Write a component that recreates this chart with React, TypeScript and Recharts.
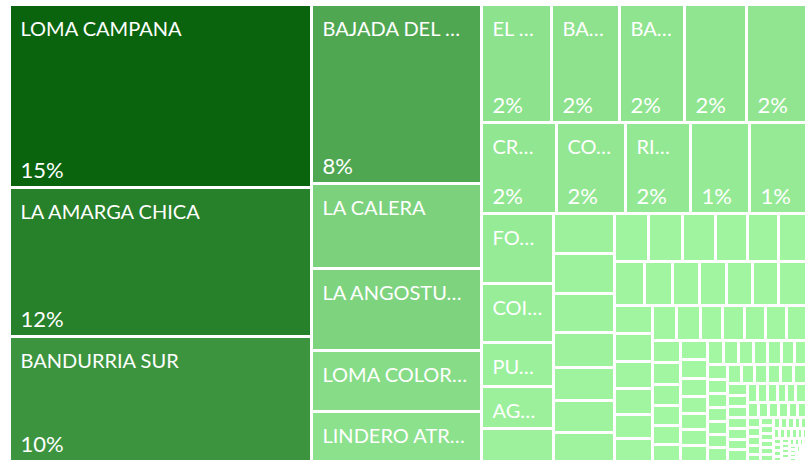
import React from 'react';
import { Treemap } from 'recharts';

// Known block names, in order of size (the smaller ones have no visible label)
const names = [
  'LOMA CAMPANA', 'LA AMARGA CHICA', 'BANDURRIA SUR', 'BAJADA DEL PALO OESTE',
  'LA CALERA', 'LA ANGOSTURA SUR', 'LOMA COLORADA', 'LINDERO ATRAVESADO',
  'EL OREJANO', 'BANDURRIA CENTRO', 'BANDURRIA NORTE', 'AGUADA PICHANA OESTE', 'AGUADA FEDERAL',
  'CRUZ DE LORENA', 'COIRON AMARGO NORTE', 'RINCON DE LA CENIZA', 'AGUADA DE CASTRO', 'MATA MORA',
  'FORTIN DE PIEDRA', 'COIRON AMARGO SUR OESTE', 'PUESTO ROJAS', 'AGUADA PICHANA ESTE', 'MATA MORA NORTE',
];

const bigValues = [55083, 44849, 37324, 30222, 14408, 13797, 10340, 8526];
const midValues = [
  8169, 8017, 7621, 7235, 6967,
  6831, 6251, 5916, 5318, 5191,
  5019, 4230, 3133, 2990, 2459,
  2450, 2430, 2379, 2153, 1976, 1928, 1751,
  1646, 1603, 1565, 1536, 1488, 1426,
  1329, 1238, 1199, 1182, 1156, 1126, 1110,
  1062, 1040, 1010, 970, 900, 850,
  840, 820, 780, 750, 740, 730, 729,
  620, 600, 580, 560, 540, 520, 516,
  515, 480, 460, 440, 425, 400, 385,
  360, 350, 340, 330, 320, 310, 290,
];
const tailValues = [
  280, 276, 272, 268, 264, 260, 256, 252,
  248, 244, 240, 236, 232, 228, 224,
  220, 214, 208, 202, 196, 190, 184, 178,
  172, 166, 160, 154, 148, 142, 136,
  130, 125, 120, 115, 110, 106, 102, 98,
  94, 90, 86, 82, 78, 75, 72, 69,
  66, 63, 60, 58, 56, 54, 52, 50,
  48, 46, 44, 42, 40, 38, 36, 34,
  33, 32, 31, 30, 29, 28, 27, 26, 25, 24,
  23, 22, 21, 20, 19, 18, 17, 16, 15, 14,
];

const values = [...bigValues, ...midValues, ...tailValues];
const data = values.map((v, i) => ({ name: names[i] ?? `ÁREA ${i + 1}`, value: v }));

const total = values.reduce((a, b) => a + b, 0);
const maxV = Math.max(...values);
const minV = Math.min(...values);

const LOW = [164, 248, 164];
const HIGH = [10, 100, 14];
const colorFor = (v: number) => {
  const t = (v - minV) / (maxV - minV);
  const c = LOW.map((l, i) => Math.round(l + (HIGH[i] - l) * t));
  return `rgb(${c[0]},${c[1]},${c[2]})`;
};

const FONT = 'Lato';
const GAP = 3;
const PAD = 9.5;

let ctx: CanvasRenderingContext2D | null = null;
const measure = (s: string, size: number) => {
  if (!ctx) ctx = document.createElement('canvas').getContext('2d');
  if (!ctx) return s.length * size * 0.6;
  ctx.font = `${size}px ${FONT}`;
  return ctx.measureText(s).width;
};

const fitLabel = (name: string, avail: number) => {
  if (measure(name, 20) <= avail) return name;
  for (let k = name.length - 1; k >= 2; k--) {
    const s = name.slice(0, k) + '…';
    if (measure(s, 20) <= avail) return s;
  }
  return null;
};

const Tile = (props: any) => {
  const { depth, x, y, width, height, name, value } = props;
  if (depth !== 1) return null;
  const w = width - GAP;
  const h = height - GAP;
  const label = h >= 36 ? fitLabel(name, w - 2 * PAD) : null;
  const pct = h >= 84 && w >= 40 ? `${Math.round((value / total) * 100)}%` : null;
  return (
    <g>
      <rect x={x} y={y} width={w} height={h} fill={colorFor(value)} />
      {label && (
        <text x={x + PAD} y={y + 29.5} fill="#ffffff" fontSize={20} fontFamily={FONT}>
          {label}
        </text>
      )}
      {pct && (
        <text x={x + PAD} y={y + h - 8} fill="#ffffff" fontSize={22} fontFamily={FONT}>
          {pct}
        </text>
      )}
    </g>
  );
};

export default function App() {
  return (
    <div style={{ position: 'absolute', left: 11, top: 6 }}>
      <Treemap
        width={797}
        height={457}
        data={data}
        dataKey="value"
        nameKey="name"
        stroke="none"
        isAnimationActive={false}
        content={<Tile />}
      />
    </div>
  );
}
